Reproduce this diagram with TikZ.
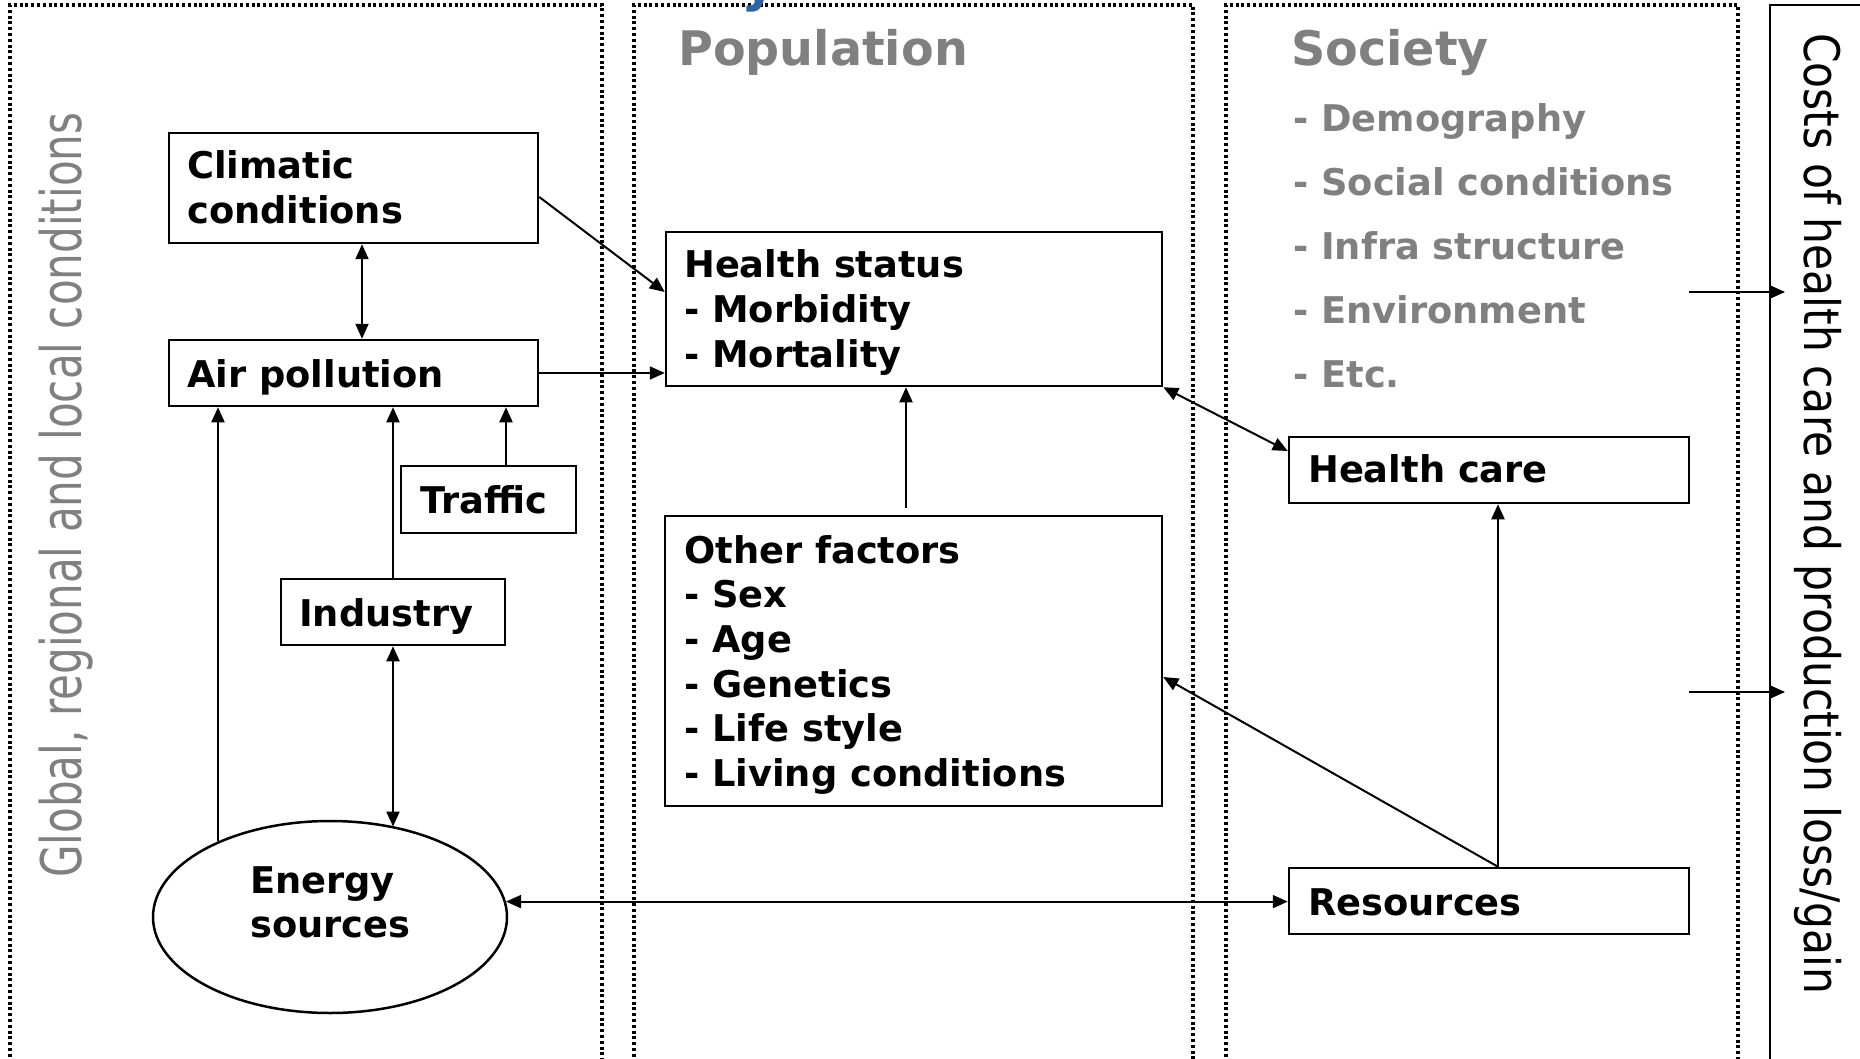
\documentclass[tikz,border=0pt]{standalone}
\usepackage{fontspec}
\setmainfont{DejaVu Sans}
\usepackage{graphicx}
\usetikzlibrary{arrows.meta,shapes.geometric}
\definecolor{tgray}{RGB}{128,128,128}
\definecolor{tblue}{RGB}{46,100,160}
\newcommand\mlines[1]{\parbox[t]{600pt}{#1}}
\tikzset{
  boxs/.style={draw, line width=2.5pt, rectangle, inner sep=0pt},
  txt/.style={inner sep=0pt, anchor=base west, font=\fontsize{36.8}{44.7}\selectfont\bfseries},
  gtxt/.style={inner sep=0pt, anchor=base west, text=tgray, font=\fontsize{36.8}{64}\selectfont\bfseries},
  ttl/.style={inner sep=0pt, anchor=base west, text=tgray, font=\fontsize{47.6}{47.6}\selectfont\bfseries},
  conn/.style={line width=2pt, -{Triangle[length=15pt,width=13pt]}},
  conntwo/.style={line width=2pt, {Triangle[length=15pt,width=13pt]}-{Triangle[length=15pt,width=13pt]}},
  panel/.style={line width=3.2pt, dash pattern=on 3pt off 2.8pt},
}
\begin{document}
\begin{tikzpicture}[x=1pt,y=-1pt]
\useasboundingbox (0,0) rectangle (1860,1059);
\fill[white] (0,0) rectangle (1860,1059);
\clip (0,0) rectangle (1860,1059);

% panels
\draw[panel] (10,1080) -- (10,5) -- (602,5) -- (602,1080);
\draw[panel] (634,1080) -- (634,5) -- (1193,5) -- (1193,1080);
\draw[panel] (1226,1080) -- (1226,5) -- (1738,5) -- (1738,1080);
\draw[line width=2.5pt] (1770,1080) -- (1770,5) -- (1880,5);

% cropped title fragment (drawn over the dotted line)
\node[inner sep=0pt, anchor=base west, text=tblue, font=\fontsize{54}{54}\selectfont\bfseries] (ttlfrag) at (741,1) {y};

% vertical texts
\node[rotate=90, anchor=base west, inner sep=0pt, text=tgray] (glob) at (81,878)
  {\resizebox{765pt}{\height}{\fontsize{56}{56}\selectfont Global, regional and local conditions}};
\node[rotate=-90, anchor=base west, inner sep=0pt] (cost) at (1804,33)
  {\resizebox{961pt}{\height}{\fontsize{49}{49}\selectfont Costs of health care and production loss/gain}};

% titles
\node[ttl] (pop) at (678,66) {Population};
\node[ttl] (soc) at (1291,66) {Society};
\node[gtxt] (socl) at (1293,132) {\mlines{- Demography\\- Social conditions\\- Infra structure\\- Environment\\- Etc.}};

% boxes
\node[boxs, minimum width=369pt, minimum height=110pt] (cc) at (353.5,188) {};
\node[txt] (ccT) at (187,179) {\mlines{Climatic\\conditions}};
\node[boxs, minimum width=369pt, minimum height=66pt] (ap) at (353.5,373) {};
\node[txt] (apT) at (187,387) {Air pollution};
\node[boxs, minimum width=175pt, minimum height=67pt] (tr) at (488.5,499.5) {};
\node[txt] (trT) at (420,513) {Traffic};
\node[boxs, minimum width=224pt, minimum height=66pt] (in) at (393,612) {};
\node[txt] (inT) at (299,626) {Industry};
\node[draw, ellipse, line width=2.5pt, minimum width=354pt, minimum height=192pt, inner sep=0pt] (es) at (330,917) {};
\node[txt] (esT) at (250,893) {\mlines{Energy\\sources}};
\node[boxs, minimum width=496pt, minimum height=154pt] (hs) at (914,309) {};
\node[txt] (hsT) at (684,278) {\mlines{Health status\\- Morbidity\\- Mortality}};
\node[boxs, minimum width=497pt, minimum height=290pt] (of) at (913.5,661) {};
\node[txt] (ofT) at (684,563) {\mlines{Other factors\\- Sex\\- Age\\- Genetics\\- Life style\\- Living conditions}};
\node[boxs, minimum width=400pt, minimum height=66pt] (hc) at (1489,470) {};
\node[txt] (hcT) at (1308,482) {Health care};
\node[boxs, minimum width=400pt, minimum height=66pt] (rs) at (1489,901) {};
\node[txt] (rsT) at (1308,915) {Resources};

% helper coordinates
\coordinate (xa) at (362,0);
\coordinate (xe) at (218,0);
\coordinate (xt) at (506,0);
\coordinate (xo) at (906,0);
\coordinate (xr) at (1498,0);
\coordinate (s1) at (1689,292);
\coordinate (c1) at (1785,292);
\coordinate (s2) at (1689,692);
\coordinate (c2) at (1785,692);

% connectors
\draw[conntwo] (cc.south -| xa) -- (ap.north -| xa);
\draw[conn] ([yshift=-9pt]cc.east) -- ([yshift=17pt]hs.west);
\draw[conn] (ap.east) -- (hs.west |- ap.east);
\draw[conn] (es.146.5 -| xe) -- (ap.south -| xe);
\draw[conn] (in.north) -- (ap.south -| in.north);
\draw[conn] (tr.north -| xt) -- (ap.south -| xt);
\draw[conntwo] (in.south) -- (es.54.4 -| in.south);
\draw[conn, shorten <=7pt] (of.north -| xo) -- (hs.south -| xo);
\draw[conntwo] (hs.south east) -- ([yshift=19pt]hc.west);
\draw[conn] (rs.north -| xr) -- (hc.south -| xr);
\draw[conn] (rs.north -| xr) -- ([yshift=-16pt]of.east);
\draw[conntwo] (es.5.6) -- (rs.west |- es.5.6);
\draw[conn] (s1) -- (c1);
\draw[conn] (s2) -- (c2);
\end{tikzpicture}
\end{document}
